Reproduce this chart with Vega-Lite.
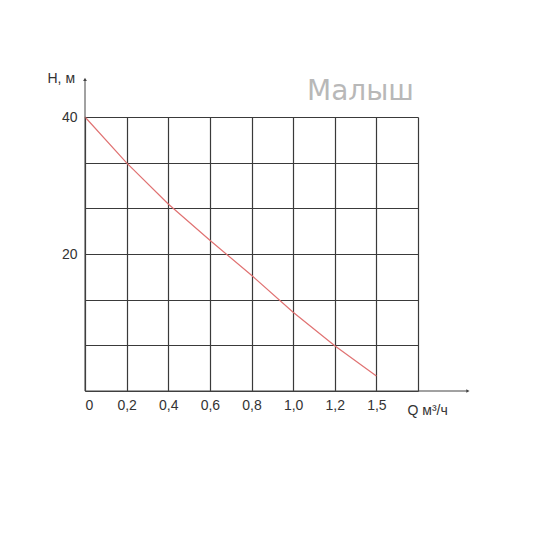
{
  "$schema": "https://vega.github.io/schema/vega-lite/v6.json",
  "autosize": "none",
  "padding": {"left": 85, "top": 117, "right": 132, "bottom": 159},
  "width": 333,
  "height": 274,
  "background": "white",
  "title": {
    "text": "Малыш",
    "anchor": "end",
    "frame": "group",
    "font": "DejaVu Sans",
    "fontSize": 28,
    "fontWeight": "normal",
    "color": "#b8b8b8",
    "offset": -35,
    "dx": -4
  },
  "datasets": {
    "curve": [
      {"Q": 0, "H": 40},
      {"Q": 0.2, "H": 33.3},
      {"Q": 0.4, "H": 27.3},
      {"Q": 0.6, "H": 22},
      {"Q": 0.8, "H": 16.9},
      {"Q": 1.0, "H": 11.5},
      {"Q": 1.2, "H": 6.6},
      {"Q": 1.4, "H": 2.2}
    ],
    "axes": [
      {"x": 0, "x2": 0, "y": 0, "y2": 45.5},
      {"x": 0, "x2": 1.84, "y": 0, "y2": 0}
    ]
  },
  "layer": [
    {
      "data": {"name": "curve"},
      "mark": {"type": "line", "color": "#e07272", "strokeWidth": 1.2},
      "encoding": {
        "x": {
          "field": "Q",
          "type": "quantitative",
          "scale": {"domain": [0, 1.6], "nice": false, "zero": false},
          "axis": {
            "values": [0, 0.2, 0.4, 0.6, 0.8, 1.0, 1.2, 1.4, 1.6],
            "labelExpr": "datum.value == 0 ? '0' : datum.value == 1.4 ? '1,5' : datum.value == 1.6 ? '' : replace(format(datum.value, '.1f'), '.', ',')",
            "title": "Q м³/ч",
            "titleX": 322,
            "titleY": 23,
            "titleAlign": "left",
            "titleBaseline": "alphabetic",
            "titleFontWeight": "normal",
            "titleFontSize": 14,
            "grid": true,
            "ticks": false,
            "domain": false,
            "labelPadding": 7
          }
        },
        "y": {
          "field": "H",
          "type": "quantitative",
          "scale": {"domain": [0, 40], "nice": false},
          "axis": {
            "values": [0, 6.667, 13.333, 20, 26.667, 33.333, 40],
            "labelExpr": "datum.value == 20 || datum.value == 40 ? datum.value : ''",
            "title": "H, м",
            "titleAngle": 0,
            "titleX": -38,
            "titleY": -39,
            "titleAlign": "left",
            "titleBaseline": "middle",
            "titleFontWeight": "normal",
            "titleFontSize": 14,
            "grid": true,
            "ticks": false,
            "domain": false,
            "labelPadding": 8
          }
        }
      }
    },
    {
      "data": {"name": "axes"},
      "mark": {"type": "rule", "color": "#444", "strokeWidth": 1},
      "encoding": {
        "x": {"field": "x", "type": "quantitative"},
        "x2": {"field": "x2"},
        "y": {"field": "y", "type": "quantitative"},
        "y2": {"field": "y2"}
      }
    },
    {
      "data": {"values": [{"x": 0, "y": 45.5}]},
      "mark": {"type": "point", "shape": "triangle-up", "size": 14, "filled": true, "color": "#444", "opacity": 1},
      "encoding": {
        "x": {"field": "x", "type": "quantitative"},
        "y": {"field": "y", "type": "quantitative"}
      }
    },
    {
      "data": {"values": [{"x": 1.84, "y": 0}]},
      "mark": {"type": "point", "shape": "triangle-right", "size": 14, "filled": true, "color": "#444", "opacity": 1},
      "encoding": {
        "x": {"field": "x", "type": "quantitative"},
        "y": {"field": "y", "type": "quantitative"}
      }
    }
  ],
  "config": {
    "view": {"stroke": null},
    "font": "Liberation Sans",
    "axis": {
      "gridColor": "#3a3a3a",
      "gridOpacity": 1,
      "gridWidth": 1.2,
      "labelFont": "Liberation Sans",
      "labelFontSize": 14,
      "labelColor": "#333",
      "titleFont": "Liberation Sans",
      "titleColor": "#333"
    }
  }
}
